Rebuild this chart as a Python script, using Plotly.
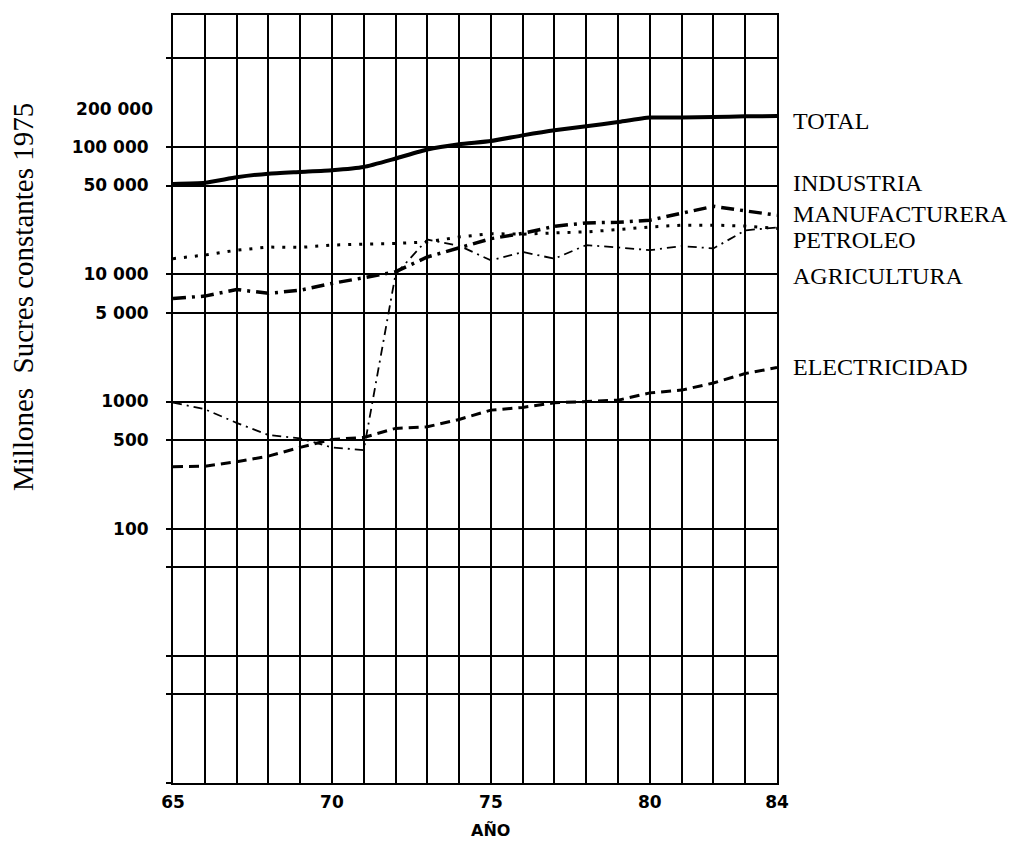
import plotly.graph_objects as go

years = list(range(65, 85))
total = [51500, 52500, 58000, 62000, 64000, 66000, 70000, 81500, 96000, 105500,
         112000, 124000, 136000, 146000, 158000, 171000, 171000, 173000, 175000, 176000]
industria = [6450, 6750, 7600, 7100, 7500, 8500, 9400, 10500, 13700, 16300,
             19100, 21000, 23900, 25400, 25700, 26700, 30100, 34300, 31600, 29200]
agricultura = [13300, 14200, 15500, 16400, 16300, 17000, 17300, 17500, 18000, 19700,
               20900, 20700, 21200, 21600, 22500, 23600, 24400, 24400, 24000, 23000]
petroleo = [980, 870, 680, 545, 513, 436, 415, 10000, 18800, 16800,
            12900, 15000, 13300, 17000, 16300, 15500, 16700, 16000, 22200, 23400]
electricidad = [307, 310, 336, 372, 436, 504, 522, 615, 633, 723,
                856, 899, 977, 1000, 1025, 1170, 1230, 1400, 1660, 1850]

x_labels = {65: "65", 70: "70", 75: "75", 80: "80", 84: "84"}
y_grid = [1, 5, 10, 50, 100, 500, 1000, 5000, 10000, 50000, 100000, 500000]
y_labels = {100: "100", 500: "500", 1000: "1000", 5000: "5 000", 10000: "10 000",
            50000: "50 000", 100000: "100 000"}
y_extra_tick = [200000]
y_extra_label = ["200 000"]

series_names = ["TOTAL", "INDUSTRIA<br>MANUFACTURERA", "PETROLEO", "AGRICULTURA", "ELECTRICIDAD"]

fig = go.Figure()
fig.add_trace(go.Scatter(x=years, y=total, mode="lines", name="TOTAL",
                         line=dict(color="black", width=4, shape="spline", smoothing=0.5)))
fig.add_trace(go.Scatter(x=years, y=industria, mode="lines", name="INDUSTRIA MANUFACTURERA",
                         line=dict(color="black", width=3.5, dash="13px,6px,3px,6px")))
fig.add_trace(go.Scatter(x=years, y=agricultura, mode="lines", name="AGRICULTURA",
                         line=dict(color="black", width=3, dash="3px,8px")))
fig.add_trace(go.Scatter(x=years, y=petroleo, mode="lines", name="PETROLEO",
                         line=dict(color="black", width=1.8, dash="9px,5px,2px,5px")))
fig.add_trace(go.Scatter(x=years, y=electricidad, mode="lines", name="ELECTRICIDAD",
                         line=dict(color="black", width=3, dash="10px,6px")))

tick_font = dict(family="DejaVu Sans", size=17, color="black", weight="bold")

fig.update_layout(
    width=1024, height=842,
    margin=dict(l=173, r=247, t=15, b=59),
    paper_bgcolor="white", plot_bgcolor="white",
    showlegend=False,
    xaxis=dict(
        range=[65, 84], tickvals=years,
        ticktext=[x_labels.get(y, "") for y in years],
        showgrid=True, gridcolor="black", gridwidth=2,
        showline=True, linecolor="black", linewidth=2, mirror=True,
        zeroline=False, ticks="", tickfont=tick_font, ticklabelstandoff=3,
    ),
    yaxis=dict(
        type="log", range=[0, 6.04], tickvals=y_grid,
        ticktext=[y_labels.get(v, "") for v in y_grid],
        showgrid=True, gridcolor="black", gridwidth=2,
        showline=True, linecolor="black", linewidth=2, mirror=True,
        zeroline=False, ticks="outside", ticklen=5, tickwidth=2, tickcolor="black",
        tickfont=tick_font, ticklabelstandoff=14,
    ),
    yaxis2=dict(
        type="log", range=[0, 6.04], overlaying="y", side="left", anchor="x",
        tickvals=y_extra_tick, ticktext=y_extra_label,
        showgrid=False, showline=False, zeroline=False, ticks="",
        tickfont=tick_font, ticklabelstandoff=19,
    ),
)

# invisible trace to activate yaxis2
fig.add_trace(go.Scatter(x=[years[0]], y=[y_extra_tick[0]], yaxis="y2", mode="markers",
                         marker=dict(opacity=0), hoverinfo="skip", showlegend=False))

label_y = [121, 198, 240, 276, 367]
serif = dict(family="Liberation Serif", size=24, color="black")
for name, ypx in zip(series_names, label_y):
    fig.add_annotation(text=name, xref="paper", yref="paper",
                       x=(791 - 173) / 604, y=(783 - ypx) / 768,
                       xanchor="left", yanchor="middle", showarrow=False,
                       font=serif, align="left")

fig.add_annotation(text="Millones  Sucres constantes 1975", xref="paper", yref="paper",
                   x=(23 - 173) / 604, y=(783 - 297) / 768, textangle=-90,
                   xanchor="center", yanchor="middle", showarrow=False,
                   font=dict(family="Liberation Serif", size=29, color="black"))

fig.add_annotation(text="AÑO", xref="paper", yref="paper",
                   x=(490 - 173) / 604, y=(783 - 830) / 768,
                   xanchor="center", yanchor="middle", showarrow=False,
                   font=dict(family="DejaVu Sans", size=16, color="black", weight="bold"))

fig.write_html("out.html")
